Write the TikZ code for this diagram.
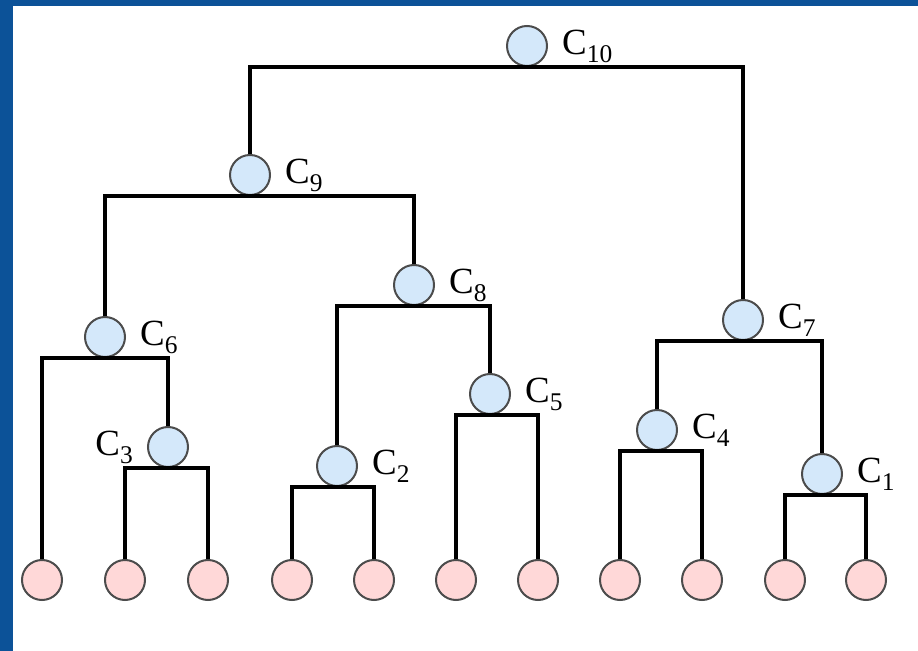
\documentclass[tikz,border=0pt]{standalone}
\usepackage{fontspec}
\setmainfont{Liberation Serif}
\usetikzlibrary{positioning}
\definecolor{slideblue}{RGB}{12,82,152}
\definecolor{clusterfill}{RGB}{212,232,250}
\definecolor{leaffill}{RGB}{255,216,216}
\tikzset{
  cluster/.style={circle, draw=black!70, line width=0.4mm, fill=clusterfill,
    minimum size=8mm, inner sep=0pt},
  leaf/.style={cluster, fill=leaffill},
  link/.style={line width=0.8mm},
  ctag/.style={font=\fontsize{21}{24}\selectfont}
}
% cluster name with a low, fairly large index
\newcommand{\cname}[1]{C\raisebox{-4.5pt}{\fontsize{14.5}{15}\selectfont #1}}

\begin{document}
\begin{tikzpicture}[x=0.2mm, y=-0.2mm, label distance=1.6mm]
  % slide frame
  \fill[slideblue] (0,0) rectangle (918,651);
  \fill[white] (13,6) rectangle (918,651);

  % leaves
  \foreach \x [count=\i] in {42,125,208,292,374,456,538,620,702,785,866}
    \node[leaf] (l\i) at (\x,580) {};

  % merged clusters
  \node[cluster, label={[ctag]right:\cname{10}}] (c10) at (527,46) {};
  \node[cluster, label={[ctag]right:\cname{9}}] (c9) at (250,175) {};
  \node[cluster, label={[ctag]right:\cname{8}}] (c8) at (414,285) {};
  \node[cluster, label={[ctag]right:\cname{7}}] (c7) at (743,320) {};
  \node[cluster, label={[ctag]right:\cname{6}}] (c6) at (105,337) {};
  \node[cluster, label={[ctag]right:\cname{5}}] (c5) at (490,394) {};
  \node[cluster, label={[ctag]right:\cname{4}}] (c4) at (657,430) {};
  \node[cluster, label={[ctag]left:\cname{3}}] (c3) at (168,447) {};
  \node[cluster, label={[ctag]right:\cname{2}}] (c2) at (337,466) {};
  \node[cluster, label={[ctag]right:\cname{1}}] (c1) at (822,474) {};

  % tree links
  \draw[link] (c9.north) |- (c10.south) -| (c7.north);
  \draw[link] (c6.north) |- (c9.south) -| (c8.north);
  \draw[link] (l1.north) |- (c6.south) -| (c3.north);
  \draw[link] (l2.north) |- (c3.south) -| (l3.north);
  \draw[link] (c2.north) |- (c8.south) -| (c5.north);
  \draw[link] (l4.north) |- (c2.south) -| (l5.north);
  \draw[link] (l6.north) |- (c5.south) -| (l7.north);
  \draw[link] (c4.north) |- (c7.south) -| (c1.north);
  \draw[link] (l8.north) |- (c4.south) -| (l9.north);
  \draw[link] (l10.north) |- (c1.south) -| (l11.north);
\end{tikzpicture}
\end{document}
